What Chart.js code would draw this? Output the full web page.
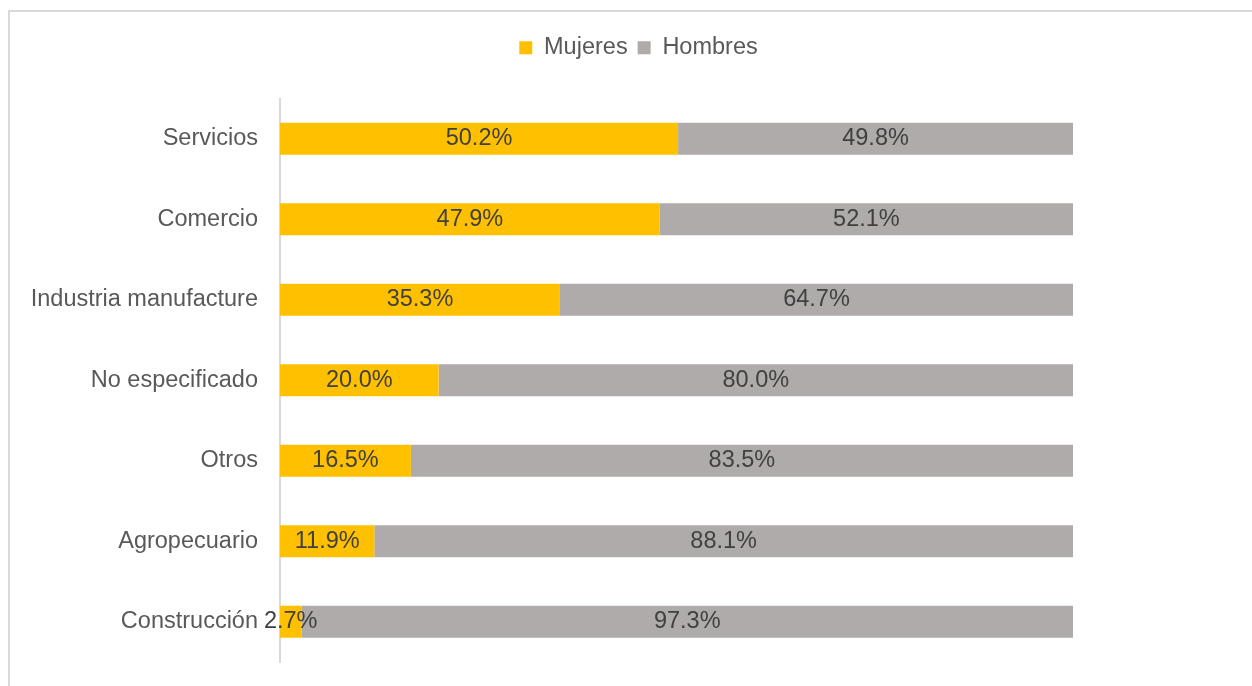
<!DOCTYPE html>
<html>
<head>
<meta charset="utf-8">
<script src="https://cdn.jsdelivr.net/npm/chart.js@4/dist/chart.umd.min.js"></script>
<style>
  body { margin: 0; background: #fff; overflow: hidden; }
  #wrap { position: relative; width: 1252px; height: 686px; }
  #frame { position: absolute; left: 8px; top: 10px; width: 1400px; height: 800px;
           border-top: 2px solid #d9d9d9; border-left: 2px solid #d9d9d9; }
  #chart { position: absolute; left: 0; top: 0; }
</style>
</head>
<body>
<div id="wrap">
  <div id="frame"></div>
  <canvas id="chart" width="1252" height="686"></canvas>
</div>
<script>
const sectores = ['Servicios', 'Comercio', 'Industria manufacture', 'No especificado', 'Otros', 'Agropecuario', 'Construcción'];
const mujeres = [50.2, 47.9, 35.3, 20.0, 16.5, 11.9, 2.7];
const hombres = [49.8, 52.1, 64.7, 80.0, 83.5, 88.1, 97.3];

const FONT = "'Liberation Sans', Arial, sans-serif";
// bars end at 100% around x=1073, chart area runs to the right edge
const xMax = 100 * (1252 - 280) / (1073 - 280);

// extra space between legend and plot
const legendGap = {
    id: 'legendGap',
    beforeInit: function (chart) {
        if (!chart.legend) return;
        const fit = chart.legend.fit;
        chart.legend.fit = function () {
            fit.bind(chart.legend)();
            this.height += 29;
        };
    }
};

// percentage labels centred in each segment
const barLabels = {
    id: 'barLabels',
    afterDatasetsDraw: function (chart) {
        const ctx = chart.ctx;
        ctx.save();
        ctx.font = '23.5px ' + FONT;
        ctx.fillStyle = '#404040';
        ctx.textAlign = 'center';
        ctx.textBaseline = 'middle';
        chart.data.datasets.forEach(function (ds, i) {
            const meta = chart.getDatasetMeta(i);
            meta.data.forEach(function (bar, j) {
                const x = (bar.x + bar.base) / 2;
                ctx.fillText(ds.data[j].toFixed(1) + '%', x, bar.y);
            });
        });
        ctx.restore();
    }
};

const ctx = document.getElementById('chart').getContext('2d');
const chart = new Chart(ctx, {
    type: 'bar',
    data: {
        labels: sectores,
        datasets: [{
            label: 'Mujeres',
            data: mujeres,
            backgroundColor: '#FFC000',
            borderWidth: 0,
            categoryPercentage: 1,
            barPercentage: 0.4
        }, {
            label: 'Hombres',
            data: hombres,
            backgroundColor: '#AFABAB',
            borderWidth: 0,
            categoryPercentage: 1,
            barPercentage: 0.4
        }]
    },
    options: {
        indexAxis: 'y',
        responsive: false,
        animation: false,
        layout: { padding: { left: 25, right: 0, top: 26, bottom: 24 } },
        plugins: {
            tooltip: { enabled: false },
            legend: {
                position: 'top',
                labels: {
                    boxWidth: 13,
                    boxHeight: 13,
                    padding: 10,
                    color: '#595959',
                    font: { family: FONT, size: 23.5 }
                }
            }
        },
        scales: {
            x: {
                stacked: true,
                display: false,
                min: 0,
                max: xMax
            },
            y: {
                stacked: true,
                grid: { display: false, drawTicks: false },
                border: { display: true, color: '#d9d9d9', width: 2 },
                ticks: {
                    color: '#595959',
                    padding: 22,
                    font: { family: FONT, size: 23.5 }
                },
                afterFit: function (scale) {
                    scale.width = 255;
                    scale.paddingTop = 0;
                    scale.paddingBottom = 0;
                }
            }
        }
    },
    plugins: [legendGap, barLabels]
});
</script>
</body>
</html>
